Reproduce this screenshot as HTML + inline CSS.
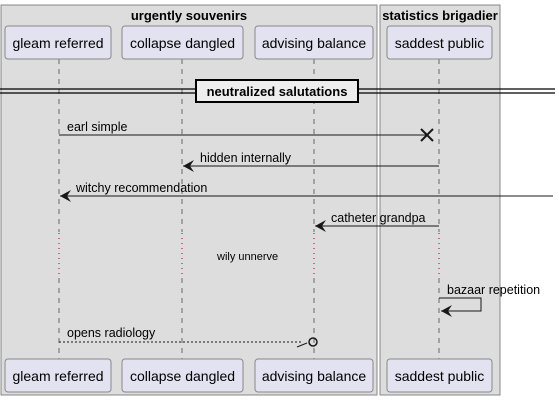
<!DOCTYPE html>
<html><head><meta charset="utf-8"><style>
html,body{margin:0;padding:0;background:#fff;width:559px;height:400px;overflow:hidden}
text{font-family:"Liberation Sans",sans-serif}
</style></head><body>
<svg width="559" height="400" xmlns="http://www.w3.org/2000/svg">
<rect x="1" y="5" width="376" height="390" fill="#dddddd" stroke="#888" stroke-width="1"/>
<rect x="380" y="5" width="120" height="390" fill="#dddddd" stroke="#888" stroke-width="1"/>
<text x="189" y="20" font-size="13" font-weight="bold" text-anchor="middle">urgently souvenirs</text>
<text x="440" y="20" font-size="13" font-weight="bold" text-anchor="middle">statistics brigadier</text>
<g stroke="#666" stroke-dasharray="5,5" stroke-width="1">
<line x1="59" y1="59" x2="59" y2="232"/><line x1="59" y1="278" x2="59" y2="359"/>
<line x1="182" y1="59" x2="182" y2="232"/><line x1="182" y1="278" x2="182" y2="359"/>
<line x1="314" y1="59" x2="314" y2="232"/><line x1="314" y1="278" x2="314" y2="359"/>
<line x1="439" y1="59" x2="439" y2="232"/><line x1="439" y1="278" x2="439" y2="359"/>
</g>
<g stroke="#a80036" stroke-dasharray="1,4" stroke-width="1">
<line x1="59" y1="233" x2="59" y2="276"/><line x1="182" y1="233" x2="182" y2="276"/>
<line x1="314" y1="233" x2="314" y2="276"/><line x1="439" y1="233" x2="439" y2="276"/>
</g>
<g fill="#e2e2f0" stroke="#888" stroke-width="1">
<rect x="5" y="26" width="106" height="33" rx="3"/><rect x="122" y="26" width="121" height="33" rx="3"/>
<rect x="255" y="26" width="118" height="33" rx="3"/><rect x="387" y="26" width="105" height="33" rx="3"/>
<rect x="5" y="359" width="106" height="33" rx="3"/><rect x="122" y="359" width="121" height="33" rx="3"/>
<rect x="255" y="359" width="118" height="33" rx="3"/><rect x="387" y="359" width="105" height="33" rx="3"/>
</g>
<g font-size="14" text-anchor="middle" fill="#000">
<text x="58" y="48">gleam referred</text><text x="182.5" y="48">collapse dangled</text>
<text x="314" y="48">advising balance</text><text x="439.5" y="48">saddest public</text>
<text x="58" y="381">gleam referred</text><text x="182.5" y="381">collapse dangled</text>
<text x="314" y="381">advising balance</text><text x="439.5" y="381">saddest public</text>
</g>
<g stroke="#000" stroke-width="1.2">
<line x1="0" y1="89" x2="555" y2="89"/><line x1="0" y1="93" x2="555" y2="93"/>
</g>
<rect x="196" y="80" width="162" height="22" fill="#eeeeee" stroke="#000" stroke-width="2"/>
<text x="277" y="96" font-size="13" font-weight="bold" text-anchor="middle">neutralized salutations</text>
<g stroke="#181818" stroke-width="1" fill="none">
<line x1="59" y1="135" x2="427" y2="135"/>
<path d="M421,129 L433,141 M421,141 L433,129" stroke-width="2"/>
<line x1="183" y1="166" x2="439" y2="166"/>
<line x1="60" y1="196" x2="553" y2="196"/>
<line x1="315" y1="226" x2="439" y2="226"/>
<path d="M439,298 L481,298 L481,311 L441,311"/>
<line x1="59" y1="342" x2="303" y2="342" stroke-dasharray="2,2"/>
<line x1="297" y1="347" x2="307" y2="343"/>
<circle cx="313" cy="342" r="4" stroke-width="1.5"/>
</g>
<g fill="#181818">
<path d="M183,166 L194,160 L190,166 L194,172 Z"/>
<path d="M60,196 L71,190 L67,196 L71,202 Z"/>
<path d="M315,226 L326,220 L322,226 L326,232 Z"/>
<path d="M441,311 L452,305 L448,311 L452,317 Z"/>
</g>
<g font-size="12.5" fill="#000">
<text x="67" y="131">earl simple</text>
<text x="200" y="162">hidden internally</text>
<text x="76" y="192">witchy recommendation</text>
<text x="331" y="222">catheter grandpa</text>
<text x="447" y="294">bazaar repetition</text>
<text x="67" y="337">opens radiology</text>
<text x="217" y="260" font-size="11">wily unnerve</text>
</g>
</svg>
</body></html>
